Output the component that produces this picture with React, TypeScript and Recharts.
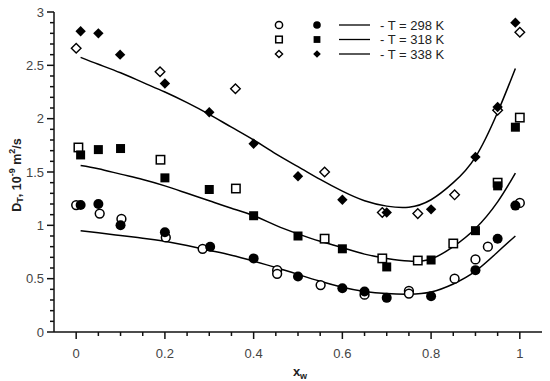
import {
  ComposedChart,
  Legend,
  Line,
  Scatter,
  XAxis,
  YAxis,
} from "recharts";

const open298 = [
  { x: 0, y: 1.19 }, { x: 0.053, y: 1.11 }, { x: 0.102, y: 1.06 },
  { x: 0.202, y: 0.887 }, { x: 0.285, y: 0.78 }, { x: 0.453, y: 0.58 },
  { x: 0.453, y: 0.545 }, { x: 0.551, y: 0.44 }, { x: 0.65, y: 0.35 },
  { x: 0.75, y: 0.385 }, { x: 0.75, y: 0.36 }, { x: 0.853, y: 0.5 },
  { x: 0.9, y: 0.68 }, { x: 0.928, y: 0.8 }, { x: 1.0, y: 1.21 },
];
const filled298 = [
  { x: 0.01, y: 1.19 }, { x: 0.05, y: 1.2 }, { x: 0.1, y: 1.0 },
  { x: 0.2, y: 0.935 }, { x: 0.302, y: 0.8 }, { x: 0.4, y: 0.69 },
  { x: 0.5, y: 0.52 }, { x: 0.6, y: 0.41 }, { x: 0.65, y: 0.38 },
  { x: 0.7, y: 0.32 }, { x: 0.8, y: 0.335 }, { x: 0.9, y: 0.58 },
  { x: 0.95, y: 0.875 }, { x: 0.99, y: 1.185 },
];
const open318 = [
  { x: 0.005, y: 1.73 }, { x: 0.19, y: 1.615 }, { x: 0.36, y: 1.345 },
  { x: 0.56, y: 0.875 }, { x: 0.69, y: 0.69 }, { x: 0.77, y: 0.67 },
  { x: 0.85, y: 0.83 }, { x: 0.95, y: 1.4 }, { x: 1.0, y: 2.01 },
];
const filled318 = [
  { x: 0.01, y: 1.66 }, { x: 0.05, y: 1.71 }, { x: 0.1, y: 1.72 },
  { x: 0.2, y: 1.445 }, { x: 0.3, y: 1.336 }, { x: 0.4, y: 1.09 },
  { x: 0.5, y: 0.9 }, { x: 0.6, y: 0.78 }, { x: 0.7, y: 0.61 },
  { x: 0.8, y: 0.675 }, { x: 0.9, y: 0.95 }, { x: 0.95, y: 1.37 },
  { x: 0.99, y: 1.92 },
];
const open338 = [
  { x: 0, y: 2.66 }, { x: 0.189, y: 2.44 }, { x: 0.359, y: 2.28 },
  { x: 0.56, y: 1.5 }, { x: 0.69, y: 1.12 }, { x: 0.77, y: 1.11 },
  { x: 0.853, y: 1.286 }, { x: 0.95, y: 2.08 }, { x: 1.0, y: 2.81 },
];
const filled338 = [
  { x: 0.01, y: 2.82 }, { x: 0.05, y: 2.8 }, { x: 0.099, y: 2.6 },
  { x: 0.2, y: 2.33 }, { x: 0.3, y: 2.06 }, { x: 0.4, y: 1.765 },
  { x: 0.5, y: 1.46 }, { x: 0.6, y: 1.24 }, { x: 0.7, y: 1.12 },
  { x: 0.8, y: 1.15 }, { x: 0.9, y: 1.64 }, { x: 0.95, y: 2.11 },
  { x: 0.99, y: 2.9 },
];

// fitted curves
const curveX = [
  0.01, 0.05, 0.1, 0.15, 0.2, 0.25, 0.3, 0.35, 0.4, 0.45, 0.5, 0.55, 0.6,
  0.65, 0.7, 0.75, 0.8, 0.85, 0.9, 0.95, 0.99,
];
const fit298 = [
  0.95, 0.93, 0.905, 0.88, 0.85, 0.81, 0.765, 0.72, 0.665, 0.605, 0.54,
  0.475, 0.42, 0.38, 0.36, 0.355, 0.375, 0.45, 0.57, 0.75, 0.9,
];
const fit318 = [
  1.56, 1.53, 1.48, 1.43, 1.37, 1.3, 1.23, 1.16, 1.09, 1.0, 0.92, 0.85, 0.79,
  0.73, 0.69, 0.665, 0.685, 0.8, 0.97, 1.22, 1.49,
];
const fit338 = [
  2.575, 2.51, 2.43, 2.34, 2.25, 2.15, 2.04, 1.92, 1.8, 1.67, 1.55, 1.43, 1.32,
  1.23, 1.18, 1.17, 1.24, 1.4, 1.64, 2.06, 2.47,
];

const legendLabels = ["- T = 298 K", "- T = 318 K", "- T = 338 K"];

const xTicks = [
  0, 0.05, 0.1, 0.15, 0.2, 0.25, 0.3, 0.35, 0.4, 0.45, 0.5, 0.55, 0.6, 0.65,
  0.7, 0.75, 0.8, 0.85, 0.9, 0.95, 1,
];
const yTicks = [
  0, 0.1, 0.2, 0.3, 0.4, 0.5, 0.6, 0.7, 0.8, 0.9, 1, 1.1, 1.2, 1.3, 1.4, 1.5,
  1.6, 1.7, 1.8, 1.9, 2, 2.1, 2.2, 2.3, 2.4, 2.5, 2.6, 2.7, 2.8, 2.9, 3,
];

const curve = (ys: number[]) => curveX.map((x, i) => ({ x, y: ys[i] }));

const FONT = "'Liberation Sans', Arial, sans-serif";
const INK = "#111";
const LABEL = "#444";

const isMult = (v: number, step: number) =>
  Math.abs(v / step - Math.round(v / step)) < 1e-6;

function XTick({ x, y, payload }: any) {
  const major = isMult(payload.value, 0.2);
  return (
    <g>
      <line x1={x} x2={x} y1={y} y2={y + (major ? 7 : 4)} stroke={INK} strokeWidth={1.5} />
      {major && (
        <text x={x} y={y + 26} textAnchor="middle" fontSize={13} fill={LABEL} fontFamily={FONT}>
          {String(Math.round(payload.value * 10) / 10)}
        </text>
      )}
    </g>
  );
}

function YTick({ x, y, payload }: any) {
  const major = isMult(payload.value, 0.5);
  return (
    <g>
      <line x1={x - (major ? 7 : 4)} x2={x} y1={y} y2={y} stroke={INK} strokeWidth={1.5} />
      {major && (
        <text x={x - 10} y={y + 4.5} textAnchor="end" fontSize={13} fill={LABEL} fontFamily={FONT}>
          {String(Math.round(payload.value * 10) / 10)}
        </text>
      )}
    </g>
  );
}

function YTitle({ viewBox }: any) {
  const cx = viewBox.x + 17;
  const cy = viewBox.y + viewBox.height / 2 + 3;
  return (
    <text
      x={cx}
      y={cy}
      transform={`rotate(-90 ${cx} ${cy})`}
      textAnchor="middle"
      dominantBaseline="central"
      fontSize={12.5}
      fontWeight="bold"
      fill="#222"
      fontFamily={FONT}
    >
      D<tspan fontSize={9} dy={3}>T</tspan>
      <tspan dy={-3}>, 10</tspan>
      <tspan fontSize={9} dy={-5}>-9</tspan>
      <tspan dy={5}> m</tspan>
      <tspan fontSize={9} dy={-5}>2</tspan>
      <tspan dy={5}>/s</tspan>
    </text>
  );
}

function XTitle({ viewBox }: any) {
  const cx = viewBox.x + viewBox.width / 2 + 2;
  return (
    <text x={cx} y={viewBox.y + 44} textAnchor="middle" fontSize={13} fontWeight="bold" fill="#222" fontFamily={FONT}>
      x<tspan fontSize={9} dy={3}>w</tspan>
    </text>
  );
}

const OpenCircle = ({ cx, cy, r = 4.4 }: any) => (
  <circle cx={cx} cy={cy} r={r} fill="#fff" stroke="#000" strokeWidth={1.5} />
);
const FilledCircle = ({ cx, cy, r = 5 }: any) => <circle cx={cx} cy={cy} r={r} fill="#000" />;
const OpenSquare = ({ cx, cy, h = 4.2 }: any) => (
  <rect x={cx - h} y={cy - h} width={2 * h} height={2 * h} fill="#fff" stroke="#000" strokeWidth={1.5} />
);
const FilledSquare = ({ cx, cy, h = 4.5 }: any) => (
  <rect x={cx - h} y={cy - h} width={2 * h} height={2 * h} fill="#000" />
);
const diamond = (cx: number, cy: number, h: number) =>
  `M${cx},${cy - h}L${cx + h},${cy}L${cx},${cy + h}L${cx - h},${cy}Z`;
const OpenDiamond = ({ cx, cy, h = 4.8 }: any) => (
  <path d={diamond(cx, cy, h)} fill="#fff" stroke="#000" strokeWidth={1.4} />
);
const FilledDiamond = ({ cx, cy, h = 5.2 }: any) => <path d={diamond(cx, cy, h)} fill="#000" />;

const legendOpen = [OpenCircle, OpenSquare, OpenDiamond];
const legendFilled = [FilledCircle, FilledSquare, FilledDiamond];

function LegendBox() {
  return (
    <svg width={200} height={50} style={{ overflow: "visible" }}>
      {legendLabels.map((label, i) => {
        const y = 9 + i * 14.5;
        const O = legendOpen[i];
        const F = legendFilled[i];
        return (
          <g key={label}>
            <O cx={9} cy={y} r={3.6} h={i === 2 ? 3.6 : 3.3} />
            <F cx={47} cy={y} r={3.8} h={i === 2 ? 3.8 : 3.4} />
            <line x1={69} x2={100} y1={y} y2={y} stroke="#000" strokeWidth={1.3} />
            <text x={110} y={y + 4.5} fontSize={13} fill="#222" fontFamily={FONT}>
              {label}
            </text>
          </g>
        );
      })}
    </svg>
  );
}

export default function App() {
  return (
    <div style={{ position: "absolute", left: 0, top: 0, background: "#fff" }}>
      <ComposedChart width={550} height={381} margin={{ top: 12, right: 8, bottom: 0, left: 0 }}>
        <XAxis
          type="number"
          dataKey="x"
          domain={[-0.05, 1.05]}
          ticks={xTicks}
          interval={0}
          height={49}
          tickSize={0}
          tickMargin={0}
          tickLine={false}
          tick={<XTick />}
          axisLine={{ stroke: INK, strokeWidth: 1.5 }}
          label={{ content: XTitle }}
          allowDataOverflow
        />
        <YAxis
          type="number"
          dataKey="y"
          domain={[0, 3]}
          ticks={yTicks}
          interval={0}
          width={54}
          tickSize={0}
          tickMargin={0}
          tickLine={false}
          tick={<YTick />}
          axisLine={{ stroke: INK, strokeWidth: 1.5 }}
          label={{ content: YTitle }}
        />
        <Legend
          layout="horizontal"
          verticalAlign="middle"
          align="center"
          content={() => <LegendBox />}
          wrapperStyle={{ position: "absolute", left: 270, top: 16, width: 200, height: 50 }}
        />
        <Line data={curve(fit298)} dataKey="y" type="natural" stroke="#000" strokeWidth={1.5} dot={false} isAnimationActive={false} />
        <Line data={curve(fit318)} dataKey="y" type="natural" stroke="#000" strokeWidth={1.5} dot={false} isAnimationActive={false} />
        <Line data={curve(fit338)} dataKey="y" type="natural" stroke="#000" strokeWidth={1.5} dot={false} isAnimationActive={false} />
        <Scatter data={open298} dataKey="y" shape={OpenCircle} isAnimationActive={false} />
        <Scatter data={open318} dataKey="y" shape={OpenSquare} isAnimationActive={false} />
        <Scatter data={open338} dataKey="y" shape={OpenDiamond} isAnimationActive={false} />
        <Scatter data={filled298} dataKey="y" shape={FilledCircle} isAnimationActive={false} />
        <Scatter data={filled318} dataKey="y" shape={FilledSquare} isAnimationActive={false} />
        <Scatter data={filled338} dataKey="y" shape={FilledDiamond} isAnimationActive={false} />
      </ComposedChart>
    </div>
  );
}
